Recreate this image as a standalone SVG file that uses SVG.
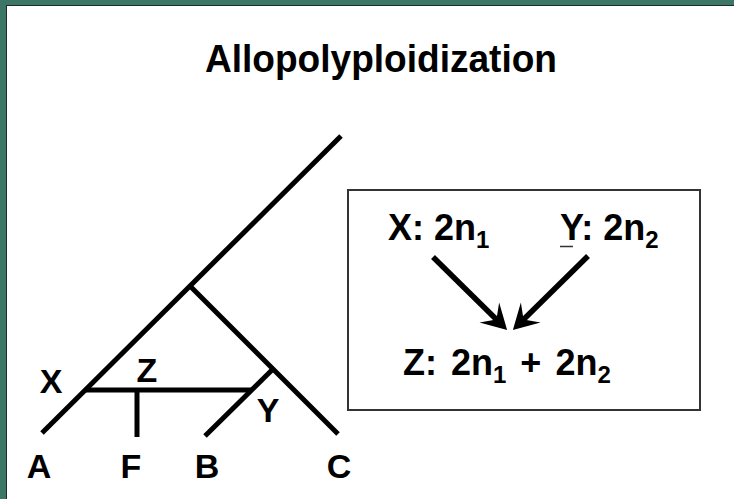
<svg xmlns="http://www.w3.org/2000/svg" width="734" height="499" viewBox="0 0 734 499">
<defs>
<style>
.t{font-family:"Liberation Sans",Arial,sans-serif;font-weight:bold;fill:#000}
.br{stroke:#000;stroke-width:5;fill:none;stroke-linecap:butt}
.ar{stroke:#000;stroke-width:5.5;fill:none}
</style>
<marker id="ah" viewBox="-20 -16 35 32" refX="0" refY="0" markerWidth="35" markerHeight="32" markerUnits="userSpaceOnUse" orient="auto">
<path d="M10,0 L-15,-14 L-5,0 L-15,14 Z" fill="#000"/>
</marker>
</defs>
<rect x="0" y="0" width="734" height="499" fill="#3b7667"/>
<rect x="6" y="5" width="728" height="494" fill="#1e2b28"/>
<rect x="7" y="6" width="727" height="493" fill="#fff"/>
<text class="t" x="381" y="72" font-size="38" text-anchor="middle" textLength="352" lengthAdjust="spacingAndGlyphs">Allopolyploidization</text>
<g id="tree">
<line class="br" x1="42" y1="433" x2="341" y2="136"/>
<line class="br" x1="190" y1="286" x2="338" y2="434"/>
<line class="br" x1="273" y1="369" x2="205" y2="436"/>
<line class="br" x1="85" y1="390" x2="252" y2="390"/>
<line class="br" x1="137" y1="390" x2="137" y2="437"/>
</g>
<g id="tree-labels">
<text class="t" x="51" y="393" font-size="34" text-anchor="middle">X</text>
<text class="t" x="147" y="382" font-size="34" text-anchor="middle">Z</text>
<text class="t" x="268" y="422" font-size="34" text-anchor="middle">Y</text>
<text class="t" x="39" y="478" font-size="34" text-anchor="middle">A</text>
<text class="t" x="131" y="478" font-size="34" text-anchor="middle">F</text>
<text class="t" x="207" y="478" font-size="34" text-anchor="middle">B</text>
<text class="t" x="339" y="478" font-size="34" text-anchor="middle">C</text>
</g>
<g id="box">
<rect x="348" y="190" width="352" height="220" fill="#fff" stroke="#333" stroke-width="2"/>
</g>
<g id="node-x">
<text class="t" x="388" y="240" font-size="36">X: 2n<tspan font-size="24" dy="8">1</tspan></text>
</g>
<g id="node-y">
<text class="t" x="560" y="240" font-size="36">Y: 2n<tspan font-size="24" dy="8">2</tspan></text>
<line x1="560" y1="246.5" x2="573" y2="246.5" stroke="#333" stroke-width="1.5"/>
</g>
<g id="node-z">
<text class="t" x="403" y="375" font-size="36" word-spacing="4">Z: 2n<tspan font-size="24" dy="8">1</tspan><tspan dy="-8"> + 2n</tspan><tspan font-size="24" dy="8">2</tspan></text>
</g>
<g id="connectors">
<line class="ar" x1="433" y1="257" x2="500" y2="323" marker-end="url(#ah)"/>
<line class="ar" x1="588" y1="256" x2="520" y2="323" marker-end="url(#ah)"/>
</g>
</svg>
